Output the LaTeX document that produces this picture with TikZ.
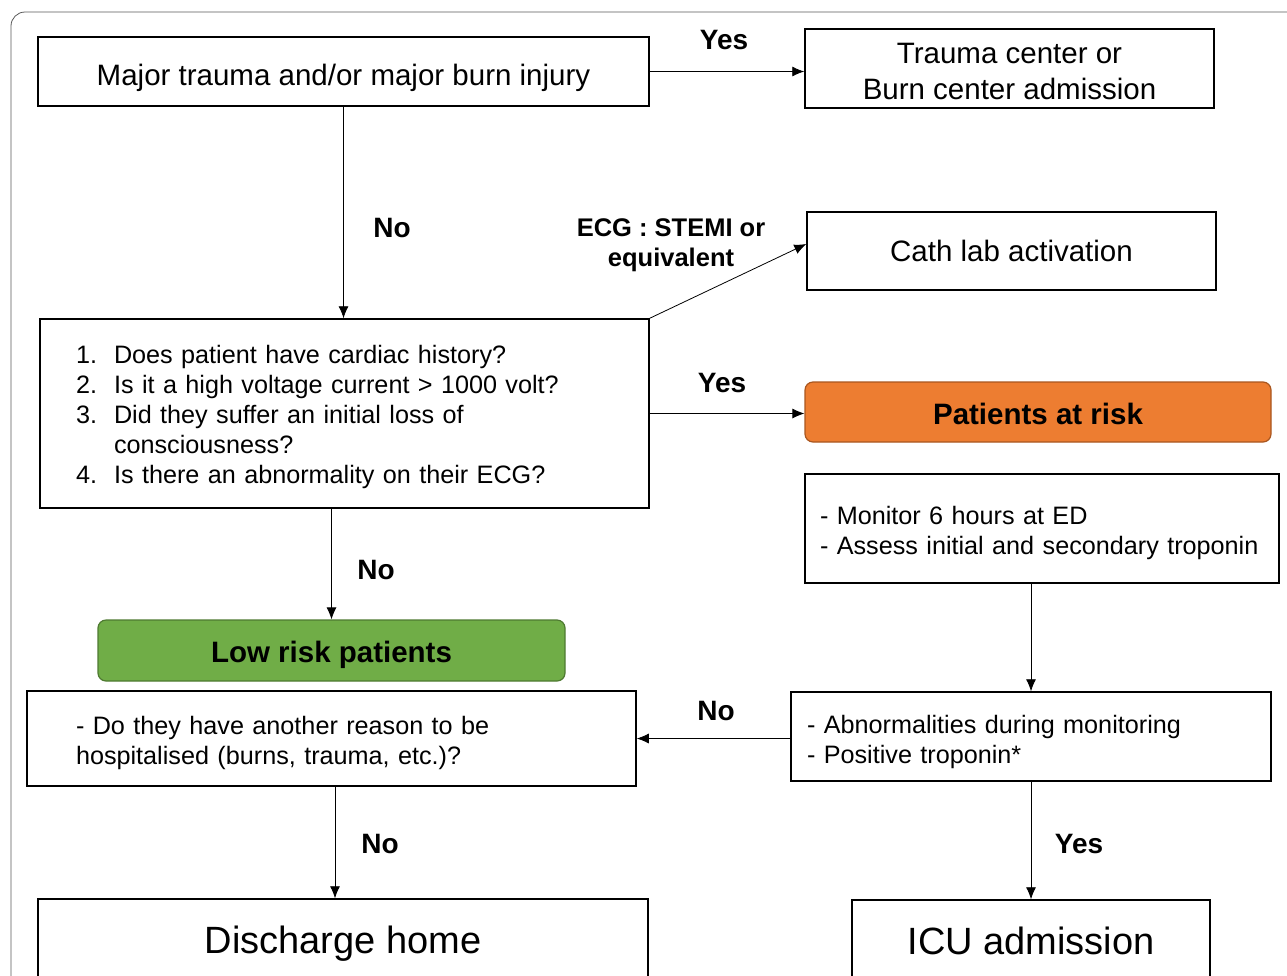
\documentclass[tikz,border=0pt]{standalone}
\usepackage{fontspec}
\setmainfont{Liberation Sans}
\usetikzlibrary{arrows,arrows.meta}
\definecolor{riskorange}{HTML}{ED7D31}
\definecolor{riskorangedark}{HTML}{A9561F}
\definecolor{lowgreen}{HTML}{70AD47}
\definecolor{lowgreendark}{HTML}{4E7A31}

\begin{document}
\begin{tikzpicture}[x=1pt,y=-1pt,
    box/.style={draw,line width=1.5pt,inner sep=0pt,align=center},
    txtbox/.style={draw,line width=1.5pt,inner ysep=0pt,align=left,font=\fontsize{25.2}{30}\selectfont},
    colbox/.style={draw,line width=1.2pt,rounded corners=8pt,inner sep=0pt,align=center,text depth=0pt,
        font=\fontsize{29.5}{36}\selectfont\bfseries},
    lbl/.style={font=\fontsize{28}{30}\selectfont\bfseries,align=center},
    arr/.style={-{Latex[length=12pt,width=10pt]},line width=0.8pt}]
\useasboundingbox (0,0) rectangle (1287,975);
\clip (0,0) rectangle (1287,975);
% outer frame
\draw[gray!70!black,line width=0.8pt,rounded corners=14pt] (11,1010) -- (11,12) -- (1310,12);

% boxes
\node[box,minimum width=611,minimum height=69,text height=27pt,text depth=0pt,font=\fontsize{29.5}{36}\selectfont](major)at(343.5,71.5){Major trauma and/or major burn injury};
\node[box,minimum width=409,minimum height=79,font=\fontsize{29.5}{36}\selectfont](center)at(1009.5,68.5){\rule{0pt}{25.5pt}Trauma center or\\Burn center admission};
\node[box,minimum width=409,minimum height=78,text depth=0pt,font=\fontsize{29.5}{36}\selectfont](cath)at(1011.5,251){Cath lab activation};
\node[txtbox,inner xsep=36,text width=537,minimum height=189](questions)at(344.5,413.5){%
  \begin{tabular}{@{}r@{\hspace{17pt}}l@{}}
  \rule{0pt}{29pt}1. & Does patient have cardiac history?\\
  2. & Is it a high voltage current > 1000 volt?\\
  3. & Did they suffer an initial loss of\\
     & consciousness?\\
  4. & Is there an abnormality on their ECG?
  \end{tabular}};
\node[colbox,fill=riskorange,draw=riskorangedark,minimum width=466,minimum height=60,text height=25.5pt](atrisk)at(1038,412){Patients at risk};
\node[txtbox,inner xsep=15,text width=444,minimum height=109](monitor)at(1042,528.5){\rule{0pt}{27pt}- Monitor 6 hours at ED\\- Assess initial and secondary troponin};
\node[txtbox,inner xsep=16,text width=448,minimum height=89](abnorm)at(1031,736.5){\rule{0pt}{28.5pt}- Abnormalities during monitoring\\- Positive troponin*};
\node[colbox,fill=lowgreen,draw=lowgreendark,minimum width=467,minimum height=61,text height=23.5pt](lowrisk)at(331.5,650.5){Low risk patients};
\node[txtbox,inner xsep=49,text width=511,minimum height=95](reason)at(331.5,738.5){\rule{0pt}{26.5pt}- Do they have another reason to be\\hospitalised (burns, trauma, etc.)?};
\node[box,minimum width=610,minimum height=82,text depth=0pt,font=\fontsize{38}{44}\selectfont](discharge)at(343,940){Discharge home};
\node[box,minimum width=358,minimum height=82,text depth=0pt,font=\fontsize{38}{44}\selectfont](icu)at(1031,941){ICU admission};

% connectors
\draw[arr] (major.east) -- (major.east -| center.west);
\draw[arr] (major.south) -- (major.south |- questions.north);
\draw[arr] (questions.north east) -- ([yshift=7pt]cath.west);
\draw[arr] (questions.east) -- (questions.east -| atrisk.west);
\draw[arr] (abnorm.north |- monitor.south) -- (abnorm.north);
\draw[arr] (abnorm.west |- reason.east) -- (reason.east);
\draw[arr] (lowrisk.north |- questions.south) -- (lowrisk.north);
\draw[arr] ([xshift=3.5pt]reason.south) -- ([xshift=3.5pt]reason.south |- discharge.north);
\draw[arr] (abnorm.south) -- (icu.north);

% labels
\node[lbl](yes1)at(724,40){Yes};
\node[lbl](no1)at(392,228){No};
\node[lbl,font=\fontsize{25.5}{30}\selectfont\bfseries](ecg)at(671,245){ECG : STEMI or\\equivalent};
\node[lbl](yes2)at(722,383){Yes};
\node[lbl](no2)at(376,570){No};
\node[lbl](no3)at(716,711){No};
\node[lbl](no4)at(380,844){No};
\node[lbl](yes3)at(1079,844){Yes};
\end{tikzpicture}
\end{document}
